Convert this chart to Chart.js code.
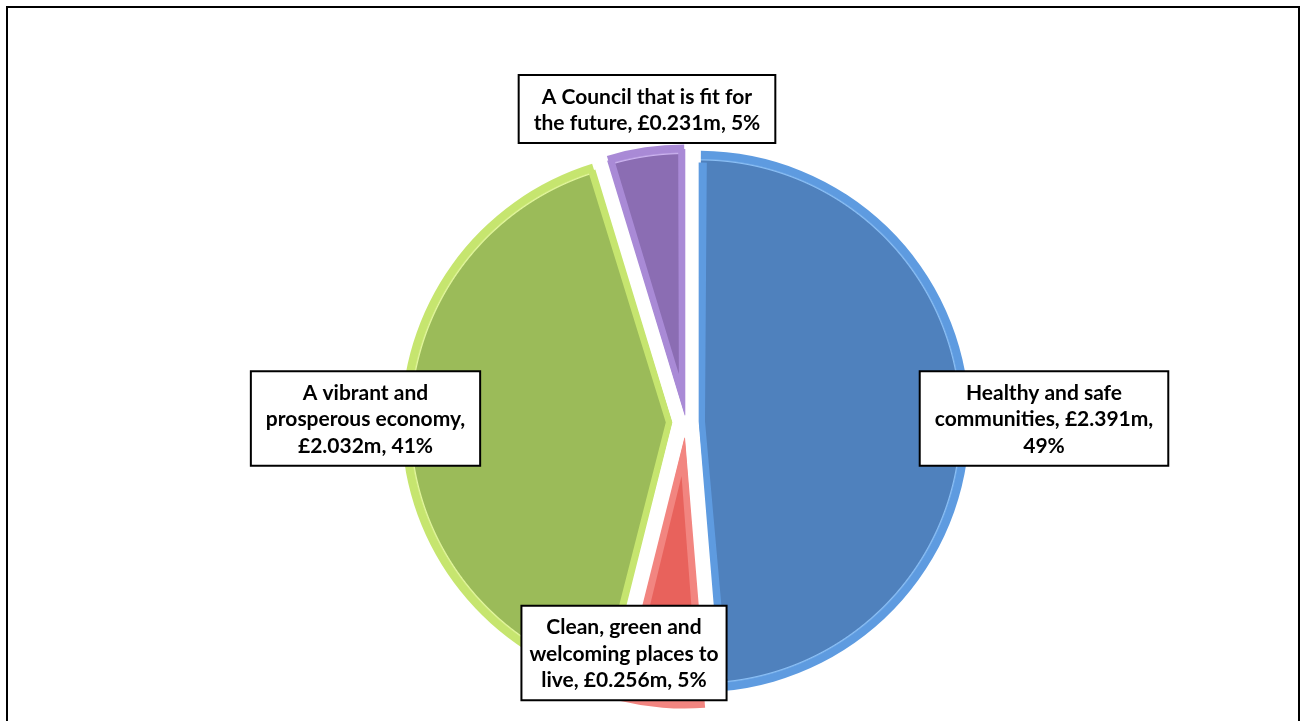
<!DOCTYPE html>
<html>
<head>
<meta charset="utf-8">
<script src="https://cdn.jsdelivr.net/npm/chart.js@4"></script>
<style>
  html, body { margin: 0; padding: 0; background: #ffffff; }
  #wrap { position: relative; width: 1301px; height: 721px; overflow: hidden; }
  #frame { position: absolute; left: 6px; top: 6px; width: 1290px; height: 740px; border: 2px solid #000; }
  #c { position: absolute; left: 0; top: 0; }
</style>
</head>
<body>
<div id="wrap">
  <div id="frame"></div>
  <canvas id="c" width="1301" height="721"></canvas>
</div>
<script>
// ---- data ----
const categories = [
  "Healthy and safe communities",
  "Clean, green and welcoming places to live",
  "A vibrant and prosperous economy",
  "A Council that is fit for the future"
];
const values = [2.391, 0.256, 2.032, 0.231];
// words per wrapped line of each data label
const labelLineWords = [[3, 2, 1], [3, 3, 3], [3, 2, 2], [6, 4]];

// ---- style ----
const fillColors = ["#4F81BD", "#E8625C", "#9BBB59", "#8B6DB3"];
const rimColors  = ["#5E9BE0", "#F28580", "#C6E56F", "#A98AD6"];
const glowColors = ["#8CC0F5", "#FBB0AC", "#E4F7A0", "#CDB5F0"];
const explodePx  = [13, 16, 14, 7];        // visible slice displacement
const RADIUS = 271;
const labelPos = [[358, -3.5], [-62, 231], [-320.5, -3.5], [-39, -313]]; // box centre relative to pie centre
const FONT = "bold 21px Lato";
const LINE_H = 26.5;
const PAD_X = [15, 8, 15, 15];

const total = values.reduce((a, b) => a + b, 0);

function labelLines(i) {
  const pct = Math.round(values[i] / total * 100);
  const words = (categories[i] + ", £" + values[i].toFixed(3) + "m, " + pct + "%").split(" ");
  const out = []; let k = 0;
  for (const n of labelLineWords[i]) { out.push(words.slice(k, k + n).join(" ")); k += n; }
  return out;
}

// radial gradient for the bevelled rim; the arc draw already translates by the explode offset
function sliceFill(context) {
  const i = context.dataIndex;
  const area = context.chart.chartArea;
  if (!area || i === undefined) return fillColors[i || 0];
  const cx = (area.left + area.right) / 2;
  const cy = (area.top + area.bottom) / 2;
  const R = RADIUS;
  const g = context.chart.ctx.createRadialGradient(cx, cy, 0, cx, cy, R);
  g.addColorStop(0, fillColors[i]);
  g.addColorStop((R - 10.5) / R, fillColors[i]);
  g.addColorStop((R - 9.5) / R, glowColors[i]);
  g.addColorStop((R - 8) / R, rimColors[i]);
  g.addColorStop(1, rimColors[i]);
  return g;
}

const radiusFix = {
  id: "radiusFix",
  beforeDatasetsDraw(chart) {
    chart.getDatasetMeta(0).data.forEach((arc) => {
      const off = (arc.options.offset || 0) / 4;
      const fix = 1 - Math.sin(Math.min(Math.PI, arc.circumference));
      arc.outerRadius = RADIUS - off * fix;
    });
  }
};

const boxLabels = {
  id: "boxLabels",
  afterDatasetsDraw(chart) {
    const ctx = chart.ctx;
    const meta = chart.getDatasetMeta(0);
    const cx = meta.data[0].x, cy = meta.data[0].y;
    ctx.save();
    ctx.font = FONT;
    ctx.textAlign = "center";
    ctx.textBaseline = "middle";
    meta.data.forEach((arc, i) => {
      const lines = labelLines(i);
      const w = Math.max(...lines.map(l => ctx.measureText(l).width)) + PAD_X[i] * 2;
      const h = lines.length * LINE_H + 15;
      const x = cx + labelPos[i][0], y = cy + labelPos[i][1];
      ctx.fillStyle = "#ffffff";
      ctx.fillRect(x - w / 2, y - h / 2, w, h);
      ctx.lineWidth = 2;
      ctx.strokeStyle = "#000000";
      ctx.strokeRect(x - w / 2, y - h / 2, w, h);
      ctx.fillStyle = "#000000";
      lines.forEach((l, j) => {
        ctx.fillText(l, x, y - (lines.length - 1) * LINE_H / 2 + j * LINE_H + 1);
      });
    });
    ctx.restore();
  }
};

new Chart(document.getElementById("c"), {
  type: "pie",
  data: {
    labels: categories,
    datasets: [{
      data: values,
      backgroundColor: sliceFill,
      borderColor: rimColors,
      borderWidth: 6,
      borderAlign: "inner",
      offset: explodePx.map(v => v * 4)
    }]
  },
  options: {
    responsive: false,
    animation: false,
    events: [],
    radius: RADIUS,
    layout: { padding: { left: 71, top: 123, right: 0, bottom: 0 } },
    plugins: { legend: { display: false }, tooltip: { enabled: false } }
  },
  plugins: [radiusFix, boxLabels]
});
</script>
</body>
</html>
